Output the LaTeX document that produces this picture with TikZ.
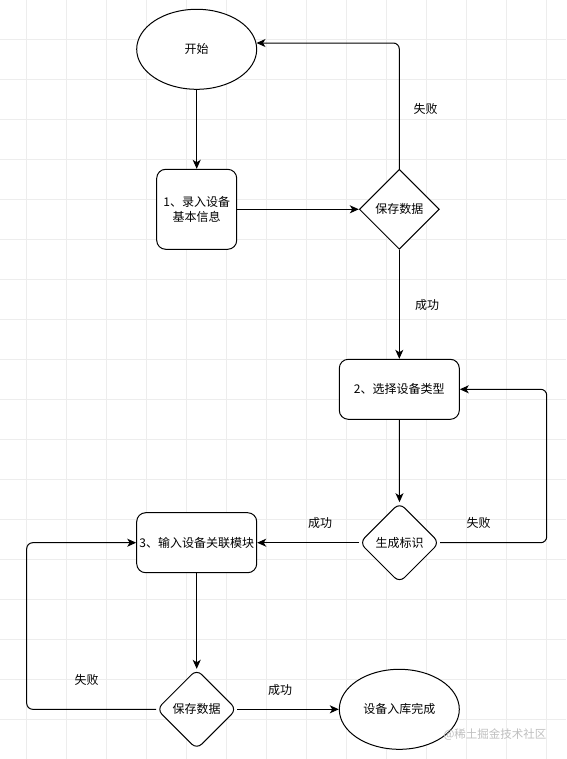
\documentclass[tikz,border=0pt]{standalone}
\usepackage{fontspec}
\setmainfont{Noto Sans CJK SC}
\usetikzlibrary{shapes.geometric,arrows.meta}
\tikzset{
  every node/.style={font=\fontsize{12pt}{15pt}\selectfont, text=black},
  ell/.style={draw, ellipse, line width=1pt, minimum width=120pt, minimum height=80pt, inner sep=0pt, fill=white},
  box/.style={draw, rectangle, rounded corners=9pt, line width=1pt, inner sep=0pt, fill=white, align=center},
  dia/.style={draw, diamond, line width=1pt, minimum width=80pt, minimum height=80pt, inner sep=0pt, fill=white},
  rdia/.style={dia, rounded corners=7pt},
  conn/.style={line width=1pt, rounded corners=6pt, -{Stealth[length=9pt,width=8pt,inset=2.5pt]}},
  lbl/.style={inner sep=0pt},
  gridline/.style={draw=black!7, line width=0.8pt}
}
\begin{document}
\begin{tikzpicture}[x=1pt,y=-1pt]
\useasboundingbox (0,0) rectangle (566,759);
\fill[white] (0,0) rectangle (566,759);
\foreach \gx in {26.7,66.7,...,550} \draw[gridline] (\gx,0) -- (\gx,759);
\foreach \gy in {39.3,79.3,...,759} \draw[gridline] (0,\gy) -- (566,\gy);

\node[ell] (start) at (196.7,49.3) {开始};
\node[box, minimum width=80pt, minimum height=80pt] (b1) at (196.7,209.3) {1、录入设备\\基本信息};
\node[dia] (d1) at (399.3,209.3) {保存数据};
\node[box, minimum width=120pt, minimum height=60pt] (b2) at (399.3,389.3) {2、选择设备类型};
\node[rdia] (d2) at (399.5,542.7) {生成标识};
\node[box, minimum width=120pt, minimum height=60pt] (b3) at (196.7,542.7) {3、输入设备关联模块};
\node[rdia] (d3) at (196.7,709.3) {保存数据};
\node[ell] (end) at (399.3,709.3) {设备入库完成};

\coordinate (r2) at (546.7,542.7);
\coordinate (l3) at (26.7,709.3);

\draw[conn] (start.south) -- (b1.north);
\draw[conn] (b1.east) -- (d1.west);
\draw[conn] (d1.north) |- (start.6.5);
\draw[conn] (d1.south) -- (b2.north);
\draw[conn] (b2.south) -- (d2.north);
\draw[conn] (d2.east) -- (r2) |- (b2.east);
\draw[conn] (d2.west) -- (b3.east);
\draw[conn] (b3.south) -- (d3.north);
\draw[conn] (d3.west) -- (l3) |- (b3.west);
\draw[conn] (d3.east) -- (end.west);

\node[lbl] (t1) at (425.5,108.5) {失败};
\node[lbl] (t2) at (427,304.5) {成功};
\node[lbl] (t3) at (478.5,523) {失败};
\node[lbl] (t4) at (320,523) {成功};
\node[lbl] (t5) at (86.5,680) {失败};
\node[lbl] (t6) at (280,690) {成功};

\node[lbl, text=black!25, font=\fontsize{11.5pt}{14pt}\selectfont] (wm) at (495,735) {@稀土掘金技术社区};
\end{tikzpicture}
\end{document}
